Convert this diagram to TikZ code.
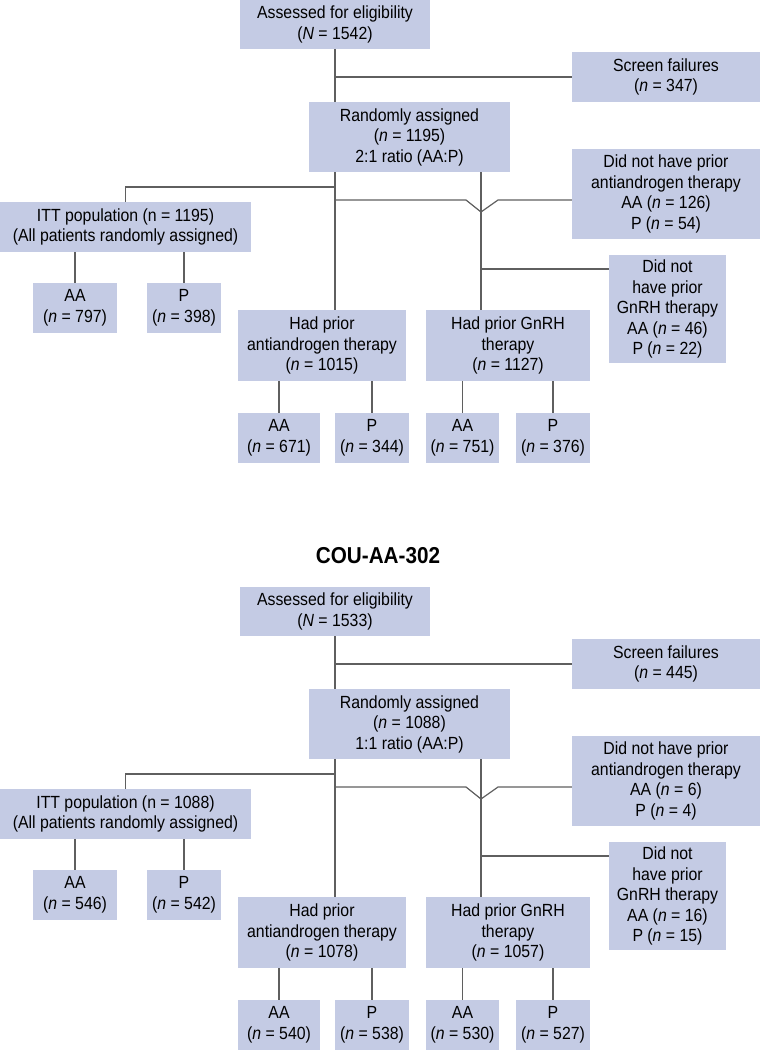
\documentclass[tikz,border=0pt]{standalone}
\usepackage{fontspec}
\setmainfont{Liberation Sans}[FakeStretch=0.9]
\definecolor{boxfill}{RGB}{196,203,228}
\definecolor{linecol}{RGB}{95,95,95}
\newcommand\itn{\textit{n}}
\newcommand\itN{\textit{N}}
\newcommand\bx[6]{\node[box,minimum width={(#3-#2)*1pt},minimum height={(#5-#4)*1pt}] (#1) at ({(#2+#3)/2},{(#4+#5)/2}) {#6};}
\tikzset{
  box/.style={fill=boxfill,draw=none,align=center,inner sep=0pt,font=\fontsize{17.6}{20.5}\selectfont},
  conn/.style={draw=linecol,line width=1.2pt},
  ttl/.style={font=\bfseries\fontsize{23}{26}\selectfont,inner sep=0pt}
}
\begin{document}
\begin{tikzpicture}[x=1pt,y=-1pt]
\useasboundingbox (0,0) rectangle (761,1050);
% ---------- diagram 1 ----------
\begin{scope}[name prefix=a-]
\bx{assess}{240}{430}{0}{49}{Assessed for eligibility\\(\itN{} = 1542)}
\bx{screen}{572}{760}{52}{102}{Screen failures\\(\itn{} = 347)}
\bx{rand}{309}{510}{102}{172}{Randomly assigned\\(\itn{} = 1195)\\2:1 ratio (AA:P)}
\bx{dnhanti}{572}{760}{149}{239}{Did not have prior\\antiandrogen therapy\\AA (\itn{} = 126)\\P (\itn{} = 54)}
\bx{itt}{0}{251}{202}{252}{ITT population (n = 1195)\\(All patients randomly assigned)}
\bx{dnhgnrh}{609}{726}{255}{363}{Did not\\have prior\\GnRH therapy\\AA (\itn{} = 46)\\P (\itn{} = 22)}
\bx{aa1}{33}{117}{283}{333}{AA\\(\itn{} = 797)}
\bx{p1}{147}{221}{283}{333}{P\\(\itn{} = 398)}
\bx{hadanti}{238}{406}{310}{381}{Had prior\\antiandrogen therapy\\(\itn{} = 1015)}
\bx{hadgnrh}{426}{590}{310}{381}{Had prior GnRH\\therapy\\(\itn{} = 1127)}
\bx{aa2}{238}{320}{413}{463}{AA\\(\itn{} = 671)}
\bx{p2}{335}{409}{413}{463}{P\\(\itn{} = 344)}
\bx{aa3}{426}{499}{413}{463}{AA\\(\itn{} = 751)}
\bx{p3}{516}{590}{413}{463}{P\\(\itn{} = 376)}
\coordinate (sp) at (335,49);
\coordinate (j1) at (335,187);
\coordinate (j2) at (335,200);
\coordinate (v1) at (466,200);
\coordinate (v2) at (481,212);
\coordinate (v3) at (498,200);
\coordinate (s2) at (481,172);
\coordinate (j3) at (481,269);
\draw[conn] (sp) -- (sp |- rand.north);
\draw[conn] (screen.west) -- (screen.west -| sp);
\draw[conn] (sp |- rand.south) -- (sp |- hadanti.north);
\draw[conn] (j1) -| (itt.north);
\draw[conn] (j2) -- (v1) -- (v2) -- (v3) -- (v3 -| dnhanti.west);
\draw[conn] (s2) -- (s2 |- hadgnrh.north);
\draw[conn] (j3) -- (j3 -| dnhgnrh.west);
\draw[conn] (aa1.north) -- (aa1.north |- itt.south);
\draw[conn] (p1.north) -- (p1.north |- itt.south);
\draw[conn] (aa2.north) -- (aa2.north |- hadanti.south);
\draw[conn] (p2.north) -- (p2.north |- hadanti.south);
\draw[conn] (aa3.north) -- (aa3.north |- hadgnrh.south);
\draw[conn] (p3.north) -- (p3.north |- hadgnrh.south);
\end{scope}
% ---------- title ----------
\node[ttl] (title) at (378,556) {COU-AA-302};
% ---------- diagram 2 ----------
\begin{scope}[yshift=-587pt,name prefix=b-]
\bx{assess}{240}{430}{0}{49}{Assessed for eligibility\\(\itN{} = 1533)}
\bx{screen}{572}{760}{52}{102}{Screen failures\\(\itn{} = 445)}
\bx{rand}{309}{510}{102}{172}{Randomly assigned\\(\itn{} = 1088)\\1:1 ratio (AA:P)}
\bx{dnhanti}{572}{760}{149}{239}{Did not have prior\\antiandrogen therapy\\AA (\itn{} = 6)\\P (\itn{} = 4)}
\bx{itt}{0}{251}{202}{252}{ITT population (n = 1088)\\(All patients randomly assigned)}
\bx{dnhgnrh}{609}{726}{255}{363}{Did not\\have prior\\GnRH therapy\\AA (\itn{} = 16)\\P (\itn{} = 15)}
\bx{aa1}{33}{117}{283}{333}{AA\\(\itn{} = 546)}
\bx{p1}{147}{221}{283}{333}{P\\(\itn{} = 542)}
\bx{hadanti}{238}{406}{310}{381}{Had prior\\antiandrogen therapy\\(\itn{} = 1078)}
\bx{hadgnrh}{426}{590}{310}{381}{Had prior GnRH\\therapy\\(\itn{} = 1057)}
\bx{aa2}{238}{320}{413}{463}{AA\\(\itn{} = 540)}
\bx{p2}{335}{409}{413}{463}{P\\(\itn{} = 538)}
\bx{aa3}{426}{499}{413}{463}{AA\\(\itn{} = 530)}
\bx{p3}{516}{590}{413}{463}{P\\(\itn{} = 527)}
\coordinate (sp) at (335,49);
\coordinate (j1) at (335,187);
\coordinate (j2) at (335,200);
\coordinate (v1) at (466,200);
\coordinate (v2) at (481,212);
\coordinate (v3) at (498,200);
\coordinate (s2) at (481,172);
\coordinate (j3) at (481,269);
\draw[conn] (sp) -- (sp |- rand.north);
\draw[conn] (screen.west) -- (screen.west -| sp);
\draw[conn] (sp |- rand.south) -- (sp |- hadanti.north);
\draw[conn] (j1) -| (itt.north);
\draw[conn] (j2) -- (v1) -- (v2) -- (v3) -- (v3 -| dnhanti.west);
\draw[conn] (s2) -- (s2 |- hadgnrh.north);
\draw[conn] (j3) -- (j3 -| dnhgnrh.west);
\draw[conn] (aa1.north) -- (aa1.north |- itt.south);
\draw[conn] (p1.north) -- (p1.north |- itt.south);
\draw[conn] (aa2.north) -- (aa2.north |- hadanti.south);
\draw[conn] (p2.north) -- (p2.north |- hadanti.south);
\draw[conn] (aa3.north) -- (aa3.north |- hadgnrh.south);
\draw[conn] (p3.north) -- (p3.north |- hadgnrh.south);
\end{scope}
\end{tikzpicture}
\end{document}
